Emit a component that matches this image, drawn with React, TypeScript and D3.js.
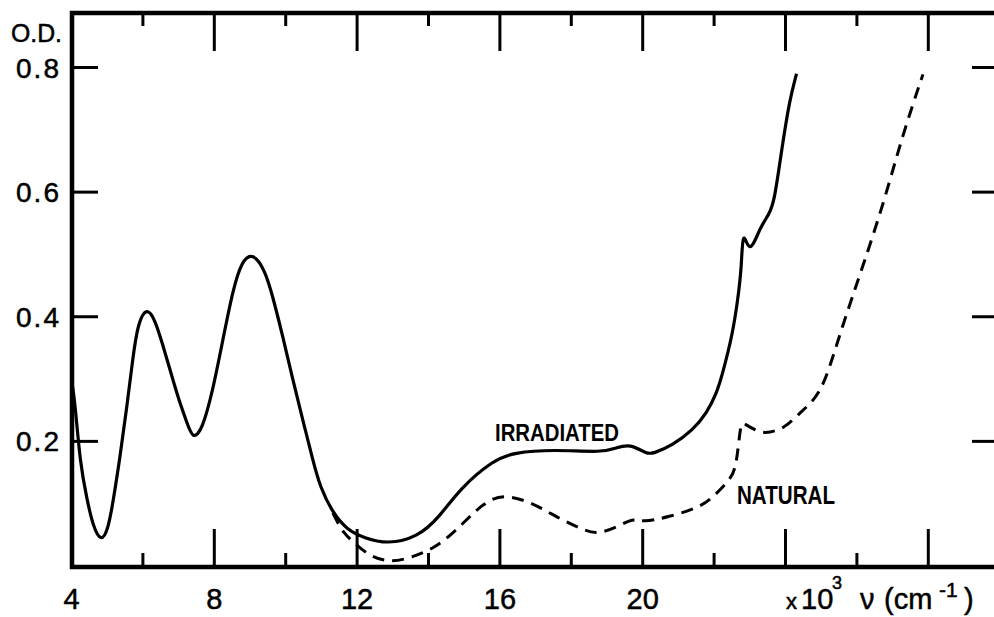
import React from "react";
import * as d3 from "d3";

// wavenumber (x 10^3 cm^-1) and optical density
const irrWave = [4.0, 4.1, 4.24, 4.43, 4.6, 4.83, 5.02, 5.16, 5.36, 5.55, 5.72, 5.86, 6.11, 6.34, 6.54, 6.76, 6.98, 7.24, 7.4, 7.66, 7.96, 8.24, 8.52, 8.77, 9.08, 9.42, 9.64, 9.92, 10.2, 10.48, 10.76, 10.96, 11.32, 11.72, 12.2, 12.85, 13.69, 14.3, 14.89, 15.82, 16.37, 17.49, 18.89, 19.28, 19.64, 20.12, 20.28, 20.84, 21.4, 21.79, 22.07, 22.24, 22.52, 22.66, 22.77, 22.8, 22.99, 23.27, 23.55, 23.69, 23.89, 24.11, 24.31];
const irrOD = [0.3, 0.262, 0.165, 0.108, 0.064, 0.038, 0.058, 0.101, 0.175, 0.255, 0.335, 0.39, 0.416, 0.395, 0.358, 0.315, 0.271, 0.229, 0.203, 0.218, 0.282, 0.363, 0.443, 0.49, 0.503, 0.475, 0.432, 0.368, 0.299, 0.234, 0.17, 0.127, 0.085, 0.058, 0.045, 0.035, 0.046, 0.078, 0.125, 0.17, 0.182, 0.187, 0.182, 0.19, 0.196, 0.18, 0.18, 0.194, 0.218, 0.245, 0.277, 0.309, 0.373, 0.426, 0.478, 0.545, 0.497, 0.542, 0.565, 0.586, 0.667, 0.747, 0.79];

const natWave = [11.32, 11.46, 11.63, 11.82, 12.38, 12.94, 13.5, 14.25, 14.98, 15.54, 16.1, 16.93, 17.6, 18.33, 18.72, 19.28, 19.73, 20.0, 20.68, 21.6, 21.96, 22.44, 22.63, 22.74, 22.85, 23.27, 23.55, 23.97, 24.39, 24.73, 25.09, 25.59, 26.15, 26.77, 27.27, 27.85];
const natOD = [0.085, 0.069, 0.053, 0.042, 0.014, 0.006, 0.013, 0.03, 0.069, 0.101, 0.116, 0.101, 0.078, 0.058, 0.051, 0.062, 0.077, 0.07, 0.078, 0.094, 0.11, 0.138, 0.158, 0.233, 0.228, 0.214, 0.214, 0.221, 0.245, 0.262, 0.29, 0.385, 0.478, 0.586, 0.69, 0.789];

const xMajor = [4, 8, 12, 16, 20, 24, 28];
const xLabels = ["4", "8", "12", "16", "20"];
const xMinor = [6, 10, 14, 18, 22, 26];
const yTicks = [0.2, 0.4, 0.6, 0.8];
const yLabels = ["0.2", "0.4", "0.6", "0.8"];

export default function App() {
  const W = 994, H = 617;
  const x = d3.scaleLinear().domain([4, 28]).range([71.5, 928.3]);
  const y = d3.scaleLinear().domain([0, 0.8]).range([566, 67.5]);
  const mk = (xs: number[], ys: number[]) =>
    d3.line<number>()
      .x((d) => x(xs[d]))
      .y((d) => y(ys[d]))
      .curve(d3.curveBasis)(d3.range(xs.length)) as string;

  const left = 72, top = 13, bottom = 567, right = 1005;
  const font = "'Liberation Sans', Arial, sans-serif";
  const tx = { fontFamily: font, fill: "#000", stroke: "#000", strokeWidth: 0.5 };

  return (
    <svg width={W} height={H} style={{ position: "absolute", left: 0, top: 0, background: "#fff" }}>
      <rect width={W} height={H} fill="#fff" />
      {/* frame */}
      <path d={`M${right},${top}H${left}V${bottom}H${right}`} fill="none" stroke="#000" strokeWidth={4.5} />
      {xMajor.slice(1).map((v) => (
        <g key={"M" + v}>
          <line x1={x(v)} x2={x(v)} y1={bottom} y2={bottom - 38} stroke="#000" strokeWidth={3} />
          <line x1={x(v)} x2={x(v)} y1={top} y2={top + 38} stroke="#000" strokeWidth={3} />
        </g>
      ))}
      {xMinor.map((v) => (
        <g key={"m" + v}>
          <line x1={x(v)} x2={x(v)} y1={bottom} y2={bottom - 14} stroke="#000" strokeWidth={3} />
          <line x1={x(v)} x2={x(v)} y1={top} y2={top + 13} stroke="#000" strokeWidth={3} />
        </g>
      ))}
      {yTicks.map((v) => (
        <g key={"y" + v}>
          <line x1={left} x2={left + 26} y1={y(v)} y2={y(v)} stroke="#000" strokeWidth={3} />
          <line x1={972} x2={W} y1={y(v)} y2={y(v)} stroke="#000" strokeWidth={3} />
        </g>
      ))}
      {xLabels.map((t, i) => (
        <text key={"xl" + t} x={x(xMajor[i])} y={609} textAnchor="middle" fontSize={29} {...tx}>{t}</text>
      ))}
      {yLabels.map((t, i) => (
        <text key={"yl" + t} x={59} y={y(yTicks[i]) + 10} textAnchor="end" fontSize={28} textLength={43} lengthAdjust="spacing" {...tx}>{t}</text>
      ))}
      <text x={11} y={42} fontSize={25} textLength={51} lengthAdjust="spacingAndGlyphs" {...tx}>O.D.</text>
      {/* x unit label */}
      <text x={786} y={609} fontSize={22} {...tx}>x</text>
      <text x={801} y={609} fontSize={29} {...tx}>10</text>
      <text x={832} y={589} fontSize={18} {...tx}>3</text>
      <text x={860} y={609} fontSize={29} {...tx}>ν</text>
      <text x={884} y={609} fontSize={29} {...tx}>(cm</text>
      <text x={939} y={597} fontSize={21} {...tx}>-1</text>
      <text x={964} y={609} fontSize={29} {...tx}>)</text>
      {/* curves */}
      <path d={mk(natWave, natOD)} fill="none" stroke="#000" strokeWidth={3} strokeDasharray="12,8" />
      <path d={mk(irrWave, irrOD)} fill="none" stroke="#000" strokeWidth={3.2} strokeLinejoin="round" />
      <text x={495} y={441} fontWeight="bold" fontSize={24} textLength={124} lengthAdjust="spacingAndGlyphs" fontFamily={font} fill="#000">IRRADIATED</text>
      <text x={737} y={504} fontWeight="bold" fontSize={26} textLength={98} lengthAdjust="spacingAndGlyphs" fontFamily={font} fill="#000">NATURAL</text>
    </svg>
  );
}
